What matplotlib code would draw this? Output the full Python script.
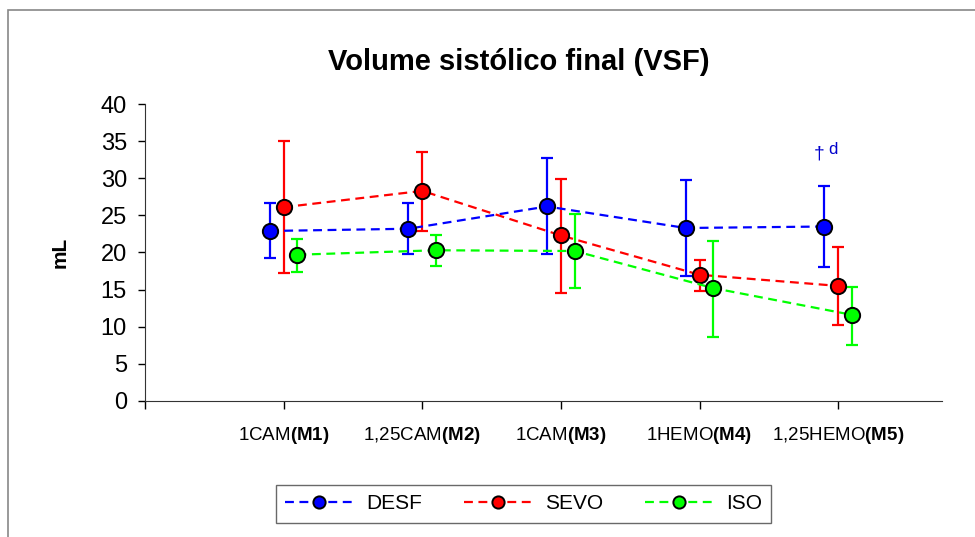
import numpy as np
import matplotlib.pyplot as plt
from matplotlib.patches import Rectangle

plt.rcParams['font.family'] = ['Liberation Sans', 'DejaVu Sans']
plt.rcParams['mathtext.fontset'] = 'custom'
plt.rcParams['mathtext.rm'] = 'Liberation Sans'
plt.rcParams['mathtext.bf'] = 'Liberation Sans:bold'

# data
moments = ["1CAM", "1,25CAM", "1CAM", "1HEMO", "1,25HEMO"]
moment_tags = ["M1", "M2", "M3", "M4", "M5"]

desf_mean = [22.9, 23.2, 26.2, 23.3, 23.5]
desf_low = [19.2, 19.8, 19.8, 16.9, 18.0]
desf_high = [26.6, 26.6, 32.7, 29.8, 29.0]

sevo_mean = [26.1, 28.3, 22.3, 17.0, 15.5]
sevo_low = [17.2, 22.9, 14.6, 14.8, 10.2]
sevo_high = [35.0, 33.6, 29.9, 19.0, 20.8]

iso_mean = [19.7, 20.3, 20.2, 15.2, 11.6]
iso_low = [17.4, 18.2, 15.2, 8.6, 7.6]
iso_high = [21.8, 22.4, 25.2, 21.6, 15.4]

series = [
    ("DESF", desf_mean, desf_low, desf_high, "#0000ff", -0.1),
    ("SEVO", sevo_mean, sevo_low, sevo_high, "#ff0000", 0.0),
    ("ISO", iso_mean, iso_low, iso_high, "#00ff00", 0.1),
]

fig = plt.figure(figsize=(9.75, 5.37), dpi=100)
ax = fig.add_axes([0.1487, 0.2533, 0.8176, 0.553])

x = np.arange(1, len(moments) + 1)
for name, mean, low, high, color, off in series:
    mean = np.array(mean)
    yerr = [mean - np.array(low), np.array(high) - mean]
    ax.errorbar(x + off, mean, yerr=yerr, fmt="none", ecolor=color,
                elinewidth=1.6, capsize=4.5, capthick=1.6, zorder=2)
    ax.plot(x + off, mean, linestyle="--", color=color, lw=1.6,
            marker="o", markersize=11, markerfacecolor=color,
            markeredgecolor="black", markeredgewidth=1.4, label=name,
            zorder=3, dashes=(4, 2.5))

ax.set_xlim(0, 5.75)
ax.set_ylim(0, 40)
ax.set_yticks(range(0, 41, 5))
ax.tick_params(axis="y", labelsize=17, length=5, width=1, pad=8)
ax.set_xticks(np.concatenate([[0], x]))
ax.set_xticklabels([""] + [f"{m}$\\mathbf{{({t})}}$" for m, t in zip(moments, moment_tags)])
ax.tick_params(axis="x", labelsize=13.5, length=6, width=1, pad=11, direction="out")
for s in ["top", "right"]:
    ax.spines[s].set_visible(False)
for s in ["left", "bottom"]:
    ax.spines[s].set_color("#333333")

ax.set_ylabel("mL", fontsize=15, fontweight="bold", labelpad=22)

ax.text(4.86, 33.3, "\u2020", color="#0000cc", fontsize=14, ha="center", va="center")
ax.text(4.96, 33.9, "d", color="#0000cc", fontsize=12, ha="center", va="center")

fig.text(0.532, 0.884, "Volume sistólico final (VSF)", fontsize=21,
         fontweight="bold", ha="center", va="center")

leg = fig.legend(loc="center", bbox_to_anchor=(0.537, 0.0615), ncol=3,
                 fontsize=15, frameon=True, fancybox=False, edgecolor="#444444",
                 handlelength=3.3, columnspacing=2.0, borderpad=0.45,
                 handletextpad=0.6, markerscale=0.8)
leg.get_frame().set_linewidth(1.0)

fig.patches.append(Rectangle((8 / 975, -0.1), 1.2, 1 - 10 / 537 + 0.1,
                             transform=fig.transFigure, fill=False,
                             edgecolor="#888888", lw=1.2))

fig.savefig("out.png", dpi=100)
